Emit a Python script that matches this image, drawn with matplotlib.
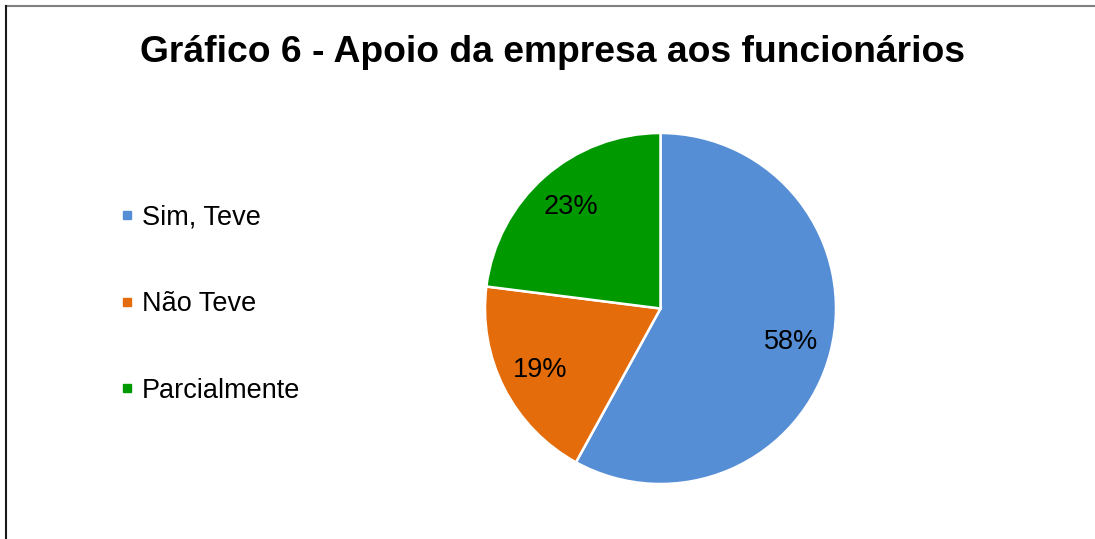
import matplotlib.pyplot as plt
from matplotlib.lines import Line2D

plt.rcParams['font.family'] = ['Liberation Sans', 'DejaVu Sans']

title = 'Gráfico 6 - Apoio da empresa aos funcionários'
labels = ['Sim, Teve', 'Não Teve', 'Parcialmente']
values = [58, 19, 23]
colors = ['#558ED5', '#E46C0A', '#009A00']

W, H = 1095, 539
fig = plt.figure(figsize=(W / 100, H / 100), dpi=100)

# pie axes: square box, centre ~(660, 308) px, radius ~175 px
cx, cy, r = 660.5, 308.5, 175.5
ax = fig.add_axes([(cx - r) / W, (H - cy - r) / H, 2 * r / W, 2 * r / H])
wedges, _, autotexts = ax.pie(values, colors=colors, startangle=90, counterclock=False,
                              autopct='%1.0f%%', pctdistance=0.77,
                              wedgeprops=dict(edgecolor='white', linewidth=1.8),
                              textprops=dict(fontsize=19.5, color='black'))
ax.set_xlim(-1, 1)
ax.set_ylim(-1, 1)

fig.text(553 / W, 1 - 52 / H, title, ha='center', va='center',
         fontsize=26.8, fontweight='bold')

handles = [Line2D([], [], marker='s', linestyle='none', markersize=6,
                  markerfacecolor=c, markeredgecolor=c) for c in colors]
fig.legend(handles, labels, loc='center left', bbox_to_anchor=(120 / W, 1 - 304 / H),
           frameon=False, fontsize=19.5, handlelength=0.5, handletextpad=0.3,
           labelspacing=2.25, borderpad=0, borderaxespad=0)

# chart border (only top and left edges visible in the crop)
fig.add_artist(Line2D([6 / W, 1], [1 - 5.5 / H, 1 - 5.5 / H], color='#808080', lw=1.5))
fig.add_artist(Line2D([6 / W, 6 / W], [0, 1 - 5.5 / H], color='#1a1a1a', lw=1.5))

fig.savefig('out.png', dpi=100)
